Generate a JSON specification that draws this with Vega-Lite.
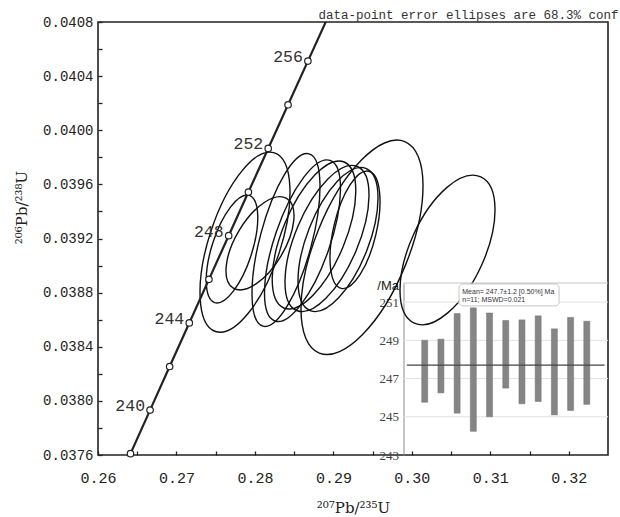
{
  "$schema": "https://vega.github.io/schema/vega-lite/v6.json",
  "width": 510,
  "height": 433,
  "autosize": {"type": "none"},
  "padding": {"left": 98, "top": 22, "right": 12, "bottom": 62},
  "background": "white",
  "view": {"stroke": "#222", "strokeWidth": 1.6},
  "config": {"font": "Liberation Sans"},
  "datasets": {
    "concordia": [
      {"age": 236, "pb207_u235": 0.261655, "pb206_u238": 0.0372879},
      {"age": 238, "pb207_u235": 0.264143, "pb206_u238": 0.0376098},
      {"age": 240, "pb207_u235": 0.266635, "pb206_u238": 0.0379317},
      {"age": 242, "pb207_u235": 0.269131, "pb206_u238": 0.0382538},
      {"age": 244, "pb207_u235": 0.271634, "pb206_u238": 0.038576},
      {"age": 246, "pb207_u235": 0.27414, "pb206_u238": 0.0388982},
      {"age": 248, "pb207_u235": 0.276653, "pb206_u238": 0.0392206},
      {"age": 250, "pb207_u235": 0.27917, "pb206_u238": 0.0395431},
      {"age": 252, "pb207_u235": 0.281692, "pb206_u238": 0.0398656},
      {"age": 254, "pb207_u235": 0.284219, "pb206_u238": 0.0401883},
      {"age": 256, "pb207_u235": 0.286752, "pb206_u238": 0.0405111},
      {"age": 258, "pb207_u235": 0.289289, "pb206_u238": 0.0408339},
      {"age": 260, "pb207_u235": 0.291831, "pb206_u238": 0.0411569}
    ],
    "spots": [
      {"spot": 1, "pb207_u235": 0.277079, "pb206_u238": 0.0391224, "lo": 245.76, "hi": 249.0},
      {"spot": 2, "pb207_u235": 0.280647, "pb206_u238": 0.0391645, "lo": 246.25, "hi": 249.06},
      {"spot": 3, "pb207_u235": 0.283961, "pb206_u238": 0.0391889, "lo": 245.19, "hi": 250.4},
      {"spot": 4, "pb207_u235": 0.293648, "pb206_u238": 0.039135, "lo": 244.24, "hi": 250.7},
      {"spot": 5, "pb207_u235": 0.278736, "pb206_u238": 0.0391727, "lo": 245.0, "hi": 250.43},
      {"spot": 6, "pb207_u235": 0.292756, "pb206_u238": 0.0392643, "lo": 246.5, "hi": 250.04},
      {"spot": 7, "pb207_u235": 0.289187, "pb206_u238": 0.0392, "lo": 245.68, "hi": 250.07},
      {"spot": 8, "pb207_u235": 0.28753, "pb206_u238": 0.0392259, "lo": 245.8, "hi": 250.28},
      {"spot": 9, "pb207_u235": 0.304545, "pb206_u238": 0.039115, "lo": 245.1, "hi": 249.6},
      {"spot": 10, "pb207_u235": 0.286064, "pb206_u238": 0.0391837, "lo": 245.33, "hi": 250.2},
      {"spot": 11, "pb207_u235": 0.290589, "pb206_u238": 0.0391926, "lo": 245.65, "hi": 250.0}
    ],
    "inset_grid": [{"age": 245}, {"age": 247}, {"age": 249}, {"age": 251}]
  },
  "layer": [
    {
      "data": {"name": "spots"},
      "mark": {"type": "point", "filled": false, "size": 4, "stroke": "#111", "strokeWidth": 1.4, "opacity": 1},
      "encoding": {
        "x": {"field": "pb207_u235", "type": "quantitative", "scale": {"domain": [0.26, 0.325], "nice": false, "zero": false}, "axis": null},
        "y": {"field": "pb206_u238", "type": "quantitative", "scale": {"domain": [0.0376, 0.0408], "nice": false, "zero": false}, "axis": null},
        "shape": {
          "field": "spot",
          "type": "nominal",
          "legend": null,
          "scale": {
            "domain": [1, 2, 3, 4, 5, 6, 7, 8, 9, 10, 11],
            "range": [
              "M 17.35 -53.64 A 56.38 20.34 -72.07 0 1 -17.35 53.64 A 56.38 20.34 -72.07 0 1 17.35 -53.64 Z",
              "M 26.66 -44.88 A 52.2 24.54 -59.29 0 1 -26.66 44.88 A 52.2 24.54 -59.29 0 1 26.66 -44.88 Z",
              "M 23 -86.15 A 89.16 25.91 -75.05 0 1 -23 86.15 A 89.16 25.91 -75.05 0 1 23 -86.15 Z",
              "M 42.72 -105.75 A 114.05 46.96 -68 0 1 -42.72 105.75 A 114.05 46.96 -68 0 1 42.72 -105.75 Z",
              "M 29.46 -89.3 A 94.03 35.81 -71.74 0 1 -29.46 89.3 A 94.03 35.81 -71.74 0 1 29.46 -89.3 Z",
              "M 13.79 -58.6 A 60.2 21.42 -76.76 0 1 -13.79 58.6 A 60.2 21.42 -76.76 0 1 13.79 -58.6 Z",
              "M 30.3 -71.98 A 78.09 31.55 -67.17 0 1 -30.3 71.98 A 78.09 31.55 -67.17 0 1 30.3 -71.98 Z",
              "M 30.17 -73.01 A 79 31.6 -67.55 0 1 -30.17 73.01 A 79 31.6 -67.55 0 1 30.17 -73.01 Z",
              "M 33.24 -73.09 A 80.29 37.29 -65.55 0 1 -33.24 73.09 A 80.29 37.29 -65.55 0 1 33.24 -73.09 Z",
              "M 27.57 -80.3 A 84.9 27.64 -71.05 0 1 -27.57 80.3 A 84.9 27.64 -71.05 0 1 27.57 -80.3 Z",
              "M 27.83 -71.12 A 76.37 30.85 -68.63 0 1 -27.83 71.12 A 76.37 30.85 -68.63 0 1 27.83 -71.12 Z"
            ]
          }
        }
      }
    },
    {
      "data": {"name": "concordia"},
      "mark": {"type": "line", "clip": true, "color": "#222", "strokeWidth": 2.2},
      "encoding": {
        "x": {
          "field": "pb207_u235", "type": "quantitative",
          "scale": {"domain": [0.26, 0.325], "nice": false, "zero": false},
          "axis": {
            "title": "²⁰⁷Pb/²³⁵U",
            "values": [0.26, 0.265, 0.27, 0.275, 0.28, 0.285, 0.29, 0.295, 0.3, 0.305, 0.31, 0.315, 0.32],
            "labelExpr": "round(datum.value*1000) % 10 == 0 ? format(datum.value, '.2f') : ''",
            "domain": false, "grid": false, "ticks": true, "tickSize": -4, "tickColor": "#222", "tickWidth": 1.3,
            "labelFont": "Liberation Mono", "labelFontSize": 15, "labelColor": "#222", "labelPadding": 19,
            "labelFlush": false, "labelOverlap": false, "labelBaseline": "top",
            "titleFont": "DejaVu Serif", "titleFontSize": 15, "titleFontWeight": "normal", "titleColor": "#222",
            "titleY": 57, "titleBaseline": "alphabetic"
          }
        },
        "y": {
          "field": "pb206_u238", "type": "quantitative",
          "scale": {"domain": [0.0376, 0.0408], "nice": false, "zero": false},
          "axis": {
            "title": "²⁰⁶Pb/²³⁸U",
            "values": [0.0376, 0.0378, 0.038, 0.0382, 0.0384, 0.0386, 0.0388, 0.039, 0.0392, 0.0394, 0.0396, 0.0398, 0.04, 0.0402, 0.0404, 0.0406, 0.0408],
            "labelExpr": "round(datum.value*10000) % 4 == 0 ? format(datum.value, '.4f') : ''",
            "domain": false, "grid": false, "ticks": true, "tickSize": -4, "tickColor": "#222", "tickWidth": 1.3,
            "labelFont": "Liberation Mono", "labelFontSize": 14, "labelColor": "#222", "labelPadding": 9,
            "labelFlush": false, "labelOverlap": false,
            "titleFont": "DejaVu Serif", "titleFontSize": 15, "titleFontWeight": "normal", "titleColor": "#222",
            "titleX": -72, "titleY": 185, "titleAngle": 270, "titleAlign": "center", "titleBaseline": "alphabetic"
          }
        },
        "order": {"field": "age", "type": "quantitative"}
      }
    },
    {
      "data": {"name": "concordia"},
      "transform": [{"filter": "datum.age >= 238 && datum.age <= 256"}],
      "mark": {"type": "point", "shape": "circle", "filled": true, "fill": "white", "stroke": "#222", "strokeWidth": 1.2, "size": 42, "opacity": 1},
      "encoding": {
        "x": {
          "field": "pb207_u235", "type": "quantitative",
          "scale": {"domain": [0.26, 0.325], "nice": false, "zero": false},
          "axis": {
            "orient": "top", "labels": false, "ticks": false, "domain": false, "grid": false,
            "title": "data-point error ellipses are 68.3% conf",
            "titleX": 520, "titleY": -4, "titleAlign": "right", "titleBaseline": "alphabetic", "titleAngle": 0,
            "titleFont": "Liberation Mono", "titleFontSize": 12.5, "titleFontWeight": "normal", "titleColor": "#333"
          }
        },
        "y": {"field": "pb206_u238", "type": "quantitative", "scale": {"domain": [0.0376, 0.0408], "nice": false, "zero": false}, "axis": null}
      }
    },
    {
      "data": {"name": "concordia"},
      "transform": [{"filter": "datum.age >= 240 && datum.age <= 256 && datum.age % 4 == 0"}],
      "mark": {"type": "text", "align": "right", "baseline": "alphabetic", "dx": -5, "dy": 1, "font": "Liberation Mono", "fontSize": 16.5, "fill": "#333"},
      "encoding": {
        "x": {"field": "pb207_u235", "type": "quantitative", "scale": {"domain": [0.26, 0.325], "nice": false, "zero": false}, "axis": null},
        "y": {"field": "pb206_u238", "type": "quantitative", "scale": {"domain": [0.0376, 0.0408], "nice": false, "zero": false}, "axis": null},
        "text": {"field": "age", "type": "quantitative"}
      }
    },
    {
      "data": {"name": "inset_grid"},
      "mark": {"type": "rule", "color": "#e2e2e2", "strokeWidth": 1},
      "encoding": {
        "x": {"datum": 0, "type": "quantitative", "scale": {"domain": [0, 12], "range": [305.5, 510], "nice": false, "zero": false}, "axis": null},
        "x2": {"datum": 12},
        "y": {"field": "age", "type": "quantitative", "scale": {"domain": [243, 252], "range": [433, 261], "nice": false, "zero": false}, "axis": null}
      }
    },
    {
      "data": {"values": [{"top": 252}]},
      "mark": {"type": "rule", "color": "#c4c4c4", "strokeWidth": 1},
      "encoding": {
        "x": {"datum": 0, "type": "quantitative", "scale": {"domain": [0, 12], "range": [305.5, 510], "nice": false, "zero": false}, "axis": null},
        "x2": {"datum": 12},
        "y": {"field": "top", "type": "quantitative", "scale": {"domain": [243, 252], "range": [433, 261], "nice": false, "zero": false}, "axis": null}
      }
    },
    {
      "data": {"name": "spots"},
      "mark": {"type": "bar", "width": 6, "color": "#858585", "stroke": "#707070", "strokeWidth": 0.5},
      "encoding": {
        "x": {"field": "spot", "type": "quantitative", "scale": {"domain": [0, 12], "range": [305.5, 510], "nice": false, "zero": false}, "axis": null},
        "y": {
          "field": "lo", "type": "quantitative",
          "scale": {"domain": [243, 252], "range": [433, 261], "nice": false, "zero": false},
          "axis": {
            "orient": "left", "offset": -305.5, "values": [243, 245, 247, 249, 251],
            "ticks": false, "grid": false, "domainColor": "#8a8a8a", "domainWidth": 1,
            "labelFont": "Liberation Serif", "labelFontSize": 13, "labelColor": "#444", "labelPadding": 5,
            "labelOverlap": false, "labelFlush": false,
            "title": "/Ma", "titleAngle": 0, "titleX": -5, "titleY": 267, "titleAlign": "right", "titleBaseline": "alphabetic",
            "titleFont": "Liberation Sans", "titleFontSize": 13, "titleFontWeight": "normal", "titleColor": "#222"
          }
        },
        "y2": {"field": "hi"}
      }
    },
    {
      "data": {"values": [{"mean": 247.7}]},
      "mark": {"type": "rule", "color": "#444", "strokeWidth": 1.2},
      "encoding": {
        "x": {"datum": 0.2, "type": "quantitative", "scale": {"domain": [0, 12], "range": [305.5, 510], "nice": false, "zero": false}, "axis": null},
        "x2": {"datum": 11.8},
        "y": {"field": "mean", "type": "quantitative", "scale": {"domain": [243, 252], "range": [433, 261], "nice": false, "zero": false}, "axis": null}
      }
    },
    {
      "data": {"values": [{}]},
      "mark": {"type": "rect", "fill": "white", "stroke": "#b8b8b8", "strokeWidth": 0.8, "cornerRadius": 4},
      "encoding": {
        "x": {"datum": 3.26, "type": "quantitative", "scale": {"domain": [0, 12], "range": [305.5, 510], "nice": false, "zero": false}, "axis": null},
        "x2": {"datum": 9.13},
        "y": {"datum": 251.95, "type": "quantitative", "scale": {"domain": [243, 252], "range": [433, 261], "nice": false, "zero": false}, "axis": null},
        "y2": {"datum": 250.8}
      }
    },
    {
      "data": {"values": [{}]},
      "mark": {"type": "text", "text": ["Mean= 247.7±1.2  [0.50%] Ma", "n=11; MSWD=0.021"], "align": "left", "baseline": "alphabetic", "font": "Liberation Sans", "fontSize": 7, "lineHeight": 8.5, "fill": "#333"},
      "encoding": {
        "x": {"datum": 3.45, "type": "quantitative", "scale": {"domain": [0, 12], "range": [305.5, 510], "nice": false, "zero": false}, "axis": null},
        "y": {"datum": 251.45, "type": "quantitative", "scale": {"domain": [243, 252], "range": [433, 261], "nice": false, "zero": false}, "axis": null}
      }
    }
  ],
  "resolve": {"scale": {"x": "independent", "y": "independent"}}
}
